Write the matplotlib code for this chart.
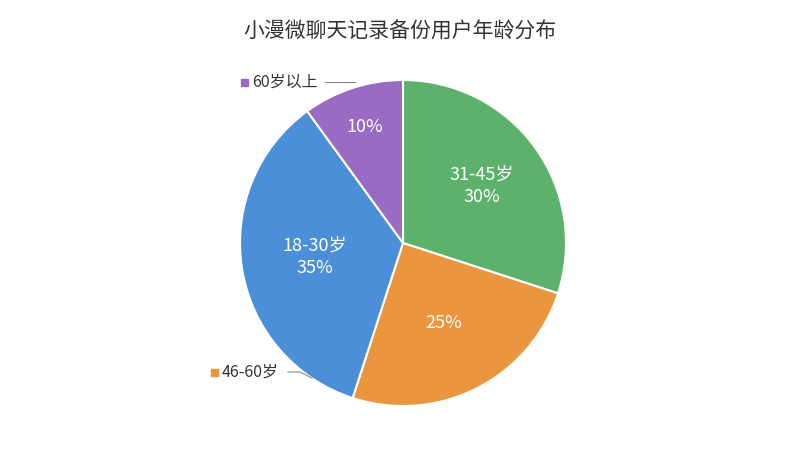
import matplotlib
matplotlib.use("Agg")
import matplotlib.pyplot as plt
import numpy as np

plt.rcParams['font.family'] = ['Noto Sans CJK SC', 'DejaVu Sans']

categories = ['31-45岁', '46-60岁', '18-30岁', '60岁以上']
values = [30, 25, 35, 10]
colors = ['#5db26b', '#ec953f', '#4a8fd8', '#9a6bc2']
inner_labels = ['31-45岁\n30%', '25%', '18-30岁\n35%', '10%']

fig = plt.figure(figsize=(8, 4.5), dpi=100)
ax = fig.add_axes([240/800, 44/450, 326/800, 326/450])
wedges, _ = ax.pie(values, colors=colors, startangle=90, counterclock=False,
                   wedgeprops=dict(edgecolor='white', linewidth=1.5))
ax.set_xlim(-1.0, 1.0)
ax.set_ylim(-1.0, 1.0)
ax.set_aspect('equal')

dists = [0.6, 0.55, 0.55, 0.75]
for w, lab, d in zip(wedges, inner_labels, dists):
    ang = np.deg2rad((w.theta1 + w.theta2) / 2)
    ax.text(d*np.cos(ang), d*np.sin(ang), lab, ha='center', va='center',
            color='white', fontsize=13, linespacing=1.3)

fig.text(0.5, 0.93, '小漫微聊天记录备份用户年龄分布', ha='center', va='center',
         fontsize=15, color='#333333')

fig.patches.append(plt.Rectangle((241/800, 1-86/450), 7/800, 7/450,
                                 transform=fig.transFigure, color=colors[3]))
fig.text(252/800, 1-82/450, categories[3], fontsize=11.5, va='center', color='#333333')
fig.lines.append(plt.Line2D([325/800, 355/800], [1-82/450, 1-82/450],
                            transform=fig.transFigure, color='#888888', lw=0.8))
fig.patches.append(plt.Rectangle((211/800, 1-376/450), 7/800, 7/450,
                                 transform=fig.transFigure, color=colors[1]))
fig.text(222/800, 1-372/450, categories[1], fontsize=11.5, va='center', color='#333333')
fig.lines.append(plt.Line2D([288/800, 300/800, 312/800], [1-372/450, 1-372/450, 1-378/450],
                            transform=fig.transFigure, color='#888888', lw=0.8))

fig.savefig('out.png', dpi=100, facecolor='white')
